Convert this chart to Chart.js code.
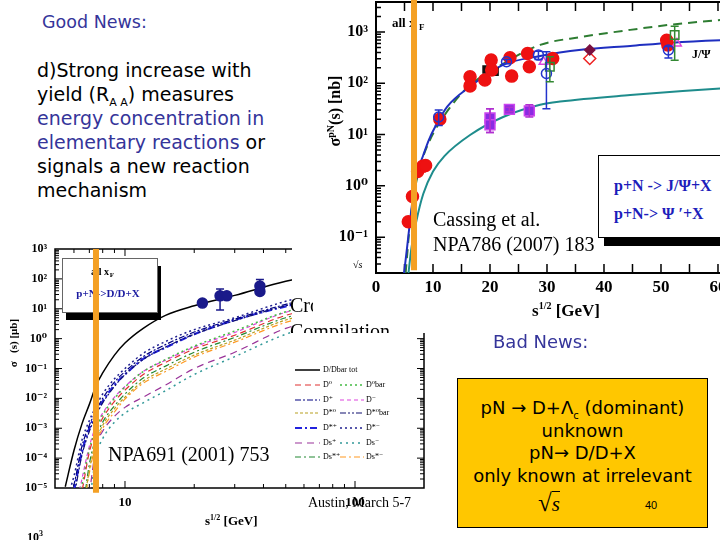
<!DOCTYPE html>
<html>
<head>
<meta charset="utf-8">
<script src="https://cdn.jsdelivr.net/npm/chart.js@4.4.1/dist/chart.umd.min.js"></script>
<style>
html, body { margin: 0; padding: 0; background: #fff; }
#slide { position: relative; width: 720px; height: 540px; overflow: hidden; background: #fff; }
canvas { position: absolute; }
#cLow { left: 0; top: 238px; z-index: 1; }
#cUp { left: 292px; top: 0; z-index: 2; }
sub, sup { line-height: 0; }
.t { position: absolute; white-space: nowrap; line-height: 1; z-index: 3; }
.comic { font-family: "DejaVu Sans", sans-serif; }
.serif { font-family: "Liberation Serif", "DejaVu Serif", serif; }
.bold { font-weight: bold; }
.navy { color: #35359a; }
#yellow { position: absolute; left: 457px; top: 378px; width: 251px; height: 150px; box-sizing: border-box;
  border: 1px solid #000; background: #ffc700; z-index: 3; text-align: center; }
#legUp { position: absolute; left: 598px; top: 155px; width: 150px; height: 83px; box-sizing: border-box;
  border: 1.5px solid #000; background: #fff; z-index: 3; }
#legUpShadow { position: absolute; left: 604px; top: 238px; width: 140px; height: 8px; background: #000; z-index: 3; }
</style>
</head>
<body>
<div id="slide">
  <canvas id="cLow" width="432" height="302"></canvas>
  <canvas id="cUp" width="468" height="333"></canvas>

  <div class="t comic navy" style="left:42px; top:14px; font-size:17.5px;">Good News:</div>
  <div class="t comic" style="left:37px; top:58px; font-size:19px; line-height:24px;">
    d)Strong increase with<br>
    yield (R<sub style="font-size:11px;">A A</sub>) measures<br>
    <span class="navy">energy concentration in</span><br>
    <span class="navy">elementary reactions</span> or<br>
    signals a new reaction<br>
    mechanism
  </div>
  <div class="t comic navy" style="left:493px; top:333px; font-size:18px;">Bad News:</div>

  <!-- upper plot texts -->
  <div class="t serif bold" style="left:277px; top:101px; width:120px; height:20px; text-align:center; font-size:16px; transform:rotate(-90deg);">σ<sup style="font-size:10px;">pN</sup>(s) [nb]</div>
  <div class="t serif bold" style="left:532px; top:302px; font-size:17px;">s<sup style="font-size:10px;">1/2</sup> [GeV]</div>
  <div class="t serif bold" style="left:692px; top:48px; font-size:12px;">J/Ψ</div>
  <div class="t serif" style="left:433px; top:209px; font-size:20px;">Cassing et al.</div>
  <div class="t serif" style="left:433px; top:234px; font-size:20px;">NPA786 (2007) 183</div>
  <div class="t serif" style="left:353px; top:260px; font-size:10px; font-style:italic;">√s</div>
  <div id="legUp">
    <div class="t serif bold" style="left:15px; top:22px; font-size:16px; color:#1d1dbb;">p+N -&gt; J/Ψ+X</div>
    <div class="t serif bold" style="left:15px; top:50px; font-size:16px; color:#1d1dbb;">p+N-&gt; Ψ ′+X</div>
  </div>
  <div id="legUpShadow"></div>

  <!-- lower plot texts -->
  <div class="t serif bold" style="left:-45px; top:336px; width:120px; height:14px; text-align:center; font-size:11px; transform:rotate(-90deg);">σ &nbsp;&nbsp;(s) [μb]</div>
  <div class="t serif bold" style="left:205px; top:514px; font-size:13px;">s<sup style="font-size:8px;">1/2</sup> [GeV]</div>
  <div class="t serif" style="left:108px; top:444px; font-size:20px;">NPA691 (2001) 753</div>
  <div class="t serif" style="left:308px; top:496px; font-size:14px;">Austin, March 5-7</div>
  <div class="t serif bold" style="left:27px; top:531px; font-size:12px;">10<sup style="font-size:8px;">3</sup></div>
  <div class="t serif" style="left:290px; top:295px; width:23px; height:20px; overflow:hidden; font-size:20px;">Cross</div>
  <div class="t serif" style="left:290px; top:318px; height:15px; overflow:hidden;"><div style="margin-top:3px; font-size:20px; line-height:1;">Compilation</div></div>

  <div id="yellow">
    <div class="comic" style="padding-top:18px; font-size:18px; line-height:22.5px;">
      pN → D+Λ<sub style="font-size:10px;">c</sub> (dominant)<br>
      unknown<br>
      pN→ D/D+X<br>
      only known at irrelevant
    </div>
    <div class="t serif" style="left:80px; top:111px; font-size:25px;">√<span style="border-top:1px solid #000; font-style:italic; font-size:21px;">s</span></div>
    <div class="t" style="left:187px; top:121px; font-size:11px; font-family:'Liberation Sans', sans-serif;">40</div>
  </div>
</div>

<script>
// ---- верхний график: J/psi и psi' в pN
const jpsiCurveX = [4.9, 5.5, 6.0, 6.5, 7.4, 8.3, 9.3, 10.5, 12.5, 16.5, 22.3, 28.8, 36, 44.6, 52, 60.4, 67];
const jpsiCurveY = [0.019, 0.07, 0.22, 0.6, 2.0, 4.0, 8, 15, 35, 86, 228, 340, 450, 535, 620, 690, 730];
const jpsiDashX = [5.2, 6.0, 7.0, 8.0, 9.5, 11.8, 15.9, 22.3, 28.8, 36, 44.6, 52, 60.4, 67];
const jpsiDashY = [0.02, 0.2, 1.1, 3.0, 8, 22, 80, 240, 560, 800, 1100, 1400, 1710, 1950];
const psiPrimeX = [5.7, 6.2, 7.1, 8.3, 10, 12, 16.5, 22.3, 28.8, 32.3, 44.6, 60.4, 67];
const psiPrimeY = [0.02, 0.06, 0.21, 0.7, 1.9, 3.8, 9.8, 22, 38, 44, 59, 79, 86];

const redX = [5.67, 6.4, 7.3, 8.2, 8.7, 11.2, 16.5, 16.5, 19.1, 20.2, 20.3, 23.5, 23.8, 26.6, 26.9, 31.0, 51.0, 51.2];
const redY = [0.2, 0.62, 1.9, 2.4, 2.5, 20, 134, 89, 116, 283, 182, 315, 138, 380, 210, 305, 690, 560];
const blackSqX = [19.4, 20.8];
const blackSqY = [185, 168];
const blueOpenX = [11.0, 22.9, 28.5, 29.9, 51.3];
const blueOpenY = [22, 263, 355, 155, 445];
const blueOpenLo = [15, 240, 290, 32, 310];
const blueOpenHi = [30, 290, 420, 410, 520];
const greenSqX = [30.5, 52.4];
const greenSqY = [210, 870];
const greenSqLo = [107, 282];
const greenSqHi = [330, 1300];
const magTriX = [29.4, 52.8];
const magTriY = [263, 600];
const maroonDiaX = [37.5];
const maroonDiaY = [445];
const redDiaX = [37.5];
const redDiaY = [305];
const psiPrimeDataX = [20.0, 20.0, 23.4, 26.9];
const psiPrimeDataY = [21, 15.5, 31, 29];
const psiPrimeDataLo = [11, 11, 28, 22];
const psiPrimeDataHi = [32, 32, 34, 38];
const upMarkX = [6.67, 6.67];
const upMarkY = [4200, 0.0227];

// ---- нижний график: p+N -> D/Dbar + X
const lowX = [5.5, 6, 6.5, 7, 7.5, 8, 9, 10, 12, 15, 20, 30, 50, 80];
const dTot = [1.1e-5, 1.8e-4, 1.4e-3, 6.3e-3, 0.028, 0.071, 0.28, 0.71, 2.2, 6.0, 12.6, 28, 83, 160];
const dStarMinus = [3e-6, 2.5e-5, 4e-4, 1.8e-3, 5.6e-3, 0.014, 0.045, 0.1, 0.32, 0.8, 2.0, 5.0, 17.8, 40];
const dPlus = [2e-6, 1.3e-5, 2.5e-4, 1.26e-3, 4e-3, 0.01, 0.035, 0.079, 0.25, 0.63, 1.66, 4.5, 14, 32];
const dStar0bar = [null, 5e-6, 1.26e-4, 7.9e-4, 2.8e-3, 7.1e-3, 0.025, 0.063, 0.2, 0.52, 1.4, 4.0, 12.6, 28];
const dStarPlus = [null, 8e-6, 1.6e-4, 1e-3, 3.2e-3, 7.9e-3, 0.028, 0.063, 0.21, 0.5, 1.4, 4.2, 12, 26];
const dMinus = [null, 1e-6, 2e-5, 2.5e-4, 1.26e-3, 3.2e-3, 0.011, 0.025, 0.079, 0.19, 0.52, 1.6, 7.6, 16];
const d0bar = [null, 1e-6, 1.26e-5, 2e-4, 1e-3, 2.8e-3, 0.01, 0.024, 0.079, 0.2, 0.56, 1.8, 7.9, 17.8];
const d0 = [null, 1e-6, 8e-6, 1.6e-4, 7.9e-4, 2.2e-3, 7.9e-3, 0.019, 0.063, 0.16, 0.45, 1.3, 6, 13];
const dsStarPlus = [null, null, 1e-6, 6.3e-5, 5e-4, 1.6e-3, 5.6e-3, 0.014, 0.048, 0.12, 0.35, 1.1, 5, 11.2];
const dStar0 = [null, null, 1e-6, 4e-5, 4e-4, 1.26e-3, 4.5e-3, 0.011, 0.038, 0.095, 0.28, 0.89, 4.2, 9.5];
const dsStarMinus = [null, null, 1e-6, 3.2e-5, 3.2e-4, 1e-3, 3.5e-3, 9.5e-3, 0.032, 0.079, 0.24, 0.76, 3.5, 7.9];
const dsPlus = [null, null, null, 6.3e-6, 2.5e-4, 7.9e-4, 2.5e-3, 5e-3, 0.011, 0.028, 0.1, 0.35, 2.2, 5.6];
const dsMinus = [null, null, null, 3.2e-6, 1.26e-4, 4.5e-4, 1.6e-3, 3.2e-3, 7.1e-3, 0.018, 0.063, 0.25, 1.4, 4];
const dMeasX = [21.7, 25.9, 27.7, 38.6, 38.6];
const dMeasY = [15.5, 27, 27, 58, 38];
const dMeasLo = [null, 9, null, 30, null];
const dMeasHi = [null, 46, null, 95, null];
const lowMarkX = [7.48, 7.48];
const lowMarkY = [1000, 6.9e-6];

const ORANGE = '#f4a024';
const SERIF = '"Liberation Serif", "DejaVu Serif", serif';
const supDigits = { '-': '⁻', '0': '⁰', '1': '¹', '2': '²', '3': '³', '4': '⁴', '5': '⁵' };

const pts = (xs, ys) => xs.map((x, i) => ({ x, y: ys[i] }));
const isPow10 = (v) => Math.abs(Math.log10(v) - Math.round(Math.log10(v))) < 1e-6;
const powLabel = (v) => (isPow10(v) ? '10' + String(Math.round(Math.log10(v))).split('').map((c) => supDigits[c]).join('') : '');
// только целые 1..9 x 10^n (без 15, 150)
const isLogStep = (v) => {
    const m = v / Math.pow(10, Math.floor(Math.log10(v) + 1e-9));
    return Math.abs(m - Math.round(m)) < 1e-6;
};
// ось не добавляет своих отступов, область графика задаётся только padding
const fixAxis = (size, horizontal) => (s) => {
    if (horizontal) s.height = size; else s.width = size;
    s.paddingTop = 0; s.paddingBottom = 0; s.paddingLeft = 0; s.paddingRight = 0;
};

const curve = (label, xs, ys, color, width, dash) => ({
    label, data: pts(xs, ys), showLine: true, borderColor: color, backgroundColor: color,
    borderWidth: width, borderDash: dash, pointRadius: 0, cubicInterpolationMode: 'monotone', spanGaps: false,
});
const marks = (label, xs, ys, style, r, fill, stroke, extra = {}) => ({
    label, data: pts(xs, ys), pointStyle: style, pointRadius: r, backgroundColor: fill,
    borderColor: stroke, pointBorderWidth: 1.5, ...extra,
});

// рамка с внутренними рисками
const framePlugin = {
    id: 'frame',
    beforeDraw(chart, args, opts) {
        if (!opts.white) return;
        const { ctx, width, height } = chart;
        ctx.save();
        ctx.fillStyle = '#fff';
        ctx.fillRect(0, 0, width, height);
        ctx.restore();
    },
    beforeDatasetsDraw(chart, args, opts) {
        const { ctx, chartArea: a, scales } = chart;
        const xs = scales.x;
        const ys = scales.y;
        ctx.save();
        ctx.strokeStyle = '#000';
        ctx.lineWidth = opts.width;
        ctx.strokeRect(a.left, a.top, a.right - a.left, a.bottom - a.top);
        ctx.lineWidth = opts.tickWidth;
        ctx.beginPath();
        xs.ticks.forEach((t) => {
            if (t.value <= xs.min || t.value >= xs.max) return;
            let len = opts.major;
            if (opts.xLog) {
                if (!isLogStep(t.value)) return;
                len = isPow10(t.value) ? opts.major : opts.minor;
            }
            const px = xs.getPixelForValue(t.value);
            ctx.moveTo(px, a.bottom); ctx.lineTo(px, a.bottom - len);
            ctx.moveTo(px, a.top); ctx.lineTo(px, a.top + len);
        });
        ys.ticks.forEach((t) => {
            if (t.value <= ys.min || t.value >= ys.max || !isLogStep(t.value)) return;
            const len = isPow10(t.value) ? opts.major : opts.minor;
            const py = ys.getPixelForValue(t.value);
            ctx.moveTo(a.left, py); ctx.lineTo(a.left + len, py);
            if (opts.right) { ctx.moveTo(a.right, py); ctx.lineTo(a.right - len, py); }
        });
        ctx.stroke();
        ctx.restore();
    },
};

const errorBarPlugin = {
    id: 'errorBars',
    afterDatasetsDraw(chart) {
        const { ctx, scales: { x, y } } = chart;
        chart.data.datasets.forEach((ds) => {
            if (!ds.errLo) return;
            ctx.save();
            ctx.strokeStyle = ds.errColor || ds.borderColor;
            ctx.lineWidth = 1.5;
            ds.data.forEach((p, i) => {
                const lo = ds.errLo[i];
                const hi = ds.errHi[i];
                if (lo == null) return;
                const px = x.getPixelForValue(p.x);
                const yl = y.getPixelForValue(lo);
                const yh = y.getPixelForValue(hi);
                ctx.beginPath();
                ctx.moveTo(px, yl); ctx.lineTo(px, yh);
                ctx.moveTo(px - 4, yl); ctx.lineTo(px + 4, yl);
                ctx.moveTo(px - 4, yh); ctx.lineTo(px + 4, yh);
                ctx.stroke();
            });
            ctx.restore();
        });
    },
};

// подписи внутри верхнего графика (под оранжевой линией)
const upperNotes = {
    id: 'upperNotes',
    beforeDatasetsDraw(chart) {
        const { ctx } = chart;
        ctx.save();
        ctx.fillStyle = '#000';
        ctx.font = `bold 13px ${SERIF}`;
        ctx.textBaseline = 'alphabetic';
        ctx.fillText('all x', 100, 27);
        ctx.font = `bold 9px ${SERIF}`;
        ctx.fillText('F', 127, 30);
        ctx.restore();
    },
};

// рамка "all xF" и легенда кривых нижнего графика
const lowerNotes = {
    id: 'lowerNotes',
    beforeDatasetsDraw(chart) {
        const { ctx } = chart;
        ctx.save();
        ctx.fillStyle = '#000';
        ctx.fillRect(66, 28, 95, 54);
        ctx.fillStyle = '#fff';
        ctx.fillRect(62, 20, 95, 54);
        ctx.strokeStyle = '#666';
        ctx.lineWidth = 1;
        ctx.strokeRect(62.5, 20.5, 95, 54);
        ctx.textAlign = 'center';
        ctx.textBaseline = 'alphabetic';
        ctx.fillStyle = '#000';
        ctx.font = `bold 10px ${SERIF}`;
        ctx.fillText('all x', 100, 37);
        ctx.font = `bold 7px ${SERIF}`;
        ctx.fillText('F', 112, 39);
        ctx.fillStyle = '#1a1aa0';
        ctx.font = `bold 11px ${SERIF}`;
        ctx.fillText('p+N->D/D+X', 108, 59);
        ctx.restore();
    },
    afterDraw(chart) {
        const { ctx } = chart;
        const rows = [132, 147, 162, 175, 190, 205, 219];
        const cols = [[295, 320, 323], [340, 364, 366]];
        const layout = chart.data.datasets.filter((ds) => ds.legendPos);
        ctx.save();
        ctx.font = `8px ${SERIF}`;
        ctx.textBaseline = 'middle';
        layout.forEach((ds) => {
            const [r, c] = ds.legendPos;
            const [x0, x1, tx] = cols[c];
            const y = rows[r];
            ctx.strokeStyle = ds.borderColor;
            ctx.lineWidth = ds.borderWidth;
            ctx.setLineDash(ds.borderDash || []);
            ctx.beginPath();
            ctx.moveTo(x0, y); ctx.lineTo(x1, y);
            ctx.stroke();
            ctx.setLineDash([]);
            ctx.fillStyle = '#000';
            ctx.fillText(ds.label, tx, y);
        });
        ctx.restore();
    },
};

const initUpper = () => {
    const datasets = [
        { label: 'mark', data: pts(upMarkX, upMarkY), showLine: true, borderColor: ORANGE, borderWidth: 6,
          pointRadius: 0, clip: false, order: -1 },
        marks('red', redX, redY, 'circle', 6, '#ee1111', '#ee1111', { order: 1 }),
        marks('black', blackSqX, blackSqY, 'rect', 5, '#111', '#111', { order: 1 }),
        marks('blue', blueOpenX, blueOpenY, 'circle', 5, 'rgba(255,255,255,0)', '#2233cc',
            { order: 0, errLo: blueOpenLo, errHi: blueOpenHi }),
        marks('green', greenSqX, greenSqY, 'rect', 6, 'rgba(255,255,255,0)', '#338833',
            { order: 0, errLo: greenSqLo, errHi: greenSqHi }),
        marks('magenta', magTriX, magTriY, 'triangle', 5, 'rgba(255,255,255,0)', '#dd44dd', { order: 0 }),
        marks('maroon', maroonDiaX, maroonDiaY, 'rectRot', 5, '#7a1040', '#7a1040', { order: 0 }),
        marks('reddia', redDiaX, redDiaY, 'rectRot', 6, 'rgba(255,255,255,0)', '#ee2222', { order: 0 }),
        marks('psi2', psiPrimeDataX, psiPrimeDataY, 'rect', 7, '#8a2be2', '#cc44ee',
            { order: 0, errLo: psiPrimeDataLo, errHi: psiPrimeDataHi, errColor: '#b030d0' }),
        { ...curve('J/psi', jpsiCurveX, jpsiCurveY, '#1f2fc0', 2), order: 2 },
        { ...curve('J/psi dash', jpsiDashX, jpsiDashY, '#2e7d32', 2, [9, 6]), order: 3 },
        { ...curve("psi'", psiPrimeX, psiPrimeY, '#1e8c8c', 2), order: 2 },
    ];
    return new Chart(document.getElementById('cUp'), {
        type: 'scatter',
        data: { datasets },
        options: {
            responsive: false,
            animation: false,
            layout: { autoPadding: false, padding: { top: 2, left: 0, right: 0, bottom: 0 } },
            scales: {
                x: {
                    type: 'linear', min: 0, max: 67.37,
                    afterFit: fixAxis(60, true),
                    grid: { display: false, drawTicks: false },
                    border: { display: false },
                    ticks: {
                        stepSize: 5, includeBounds: false, autoSkip: false, maxRotation: 0, padding: 4,
                        color: '#000', font: { family: SERIF, size: 17, weight: 'bold' },
                        callback: (v) => (v % 10 === 0 ? String(v) : ''),
                    },
                },
                y: {
                    type: 'logarithmic', min: 0.02, max: 3846,
                    afterFit: fixAxis(84, false),
                    grid: { display: false, drawTicks: false },
                    border: { display: false },
                    ticks: {
                        autoSkip: false, padding: 8, color: '#000',
                        font: { family: SERIF, size: 16, weight: 'bold' },
                        callback: (v) => powLabel(v),
                    },
                },
            },
            plugins: {
                legend: { display: false },
                tooltip: { enabled: false },
                frame: { white: true, width: 2, tickWidth: 1.5, major: 9, minor: 5 },
            },
        },
        plugins: [framePlugin, upperNotes, errorBarPlugin],
    });
};

const initLower = () => {
    const c = (label, ys, color, width, dash, pos) => ({ ...curve(label, lowX, ys, color, width, dash), legendPos: pos });
    const datasets = [
        { label: 'mark', data: pts(lowMarkX, lowMarkY), showLine: true, borderColor: ORANGE, borderWidth: 6,
          pointRadius: 0, clip: false, order: -1 },
        marks('data', dMeasX, dMeasY, 'circle', 5, '#1a1a8a', '#1a1a8a',
            { order: 0, errLo: dMeasLo, errHi: dMeasHi }),
        c('D/Dbar tot', dTot, '#000', 1.5, [], [0, 0]),
        c('D⁰', d0, '#e03030', 1.2, [6, 4], [1, 0]),
        c('D⁰bar', d0bar, '#44bb44', 1.5, [2, 3], [1, 1]),
        c('D⁺', dPlus, '#000080', 1.2, [6, 2, 2, 2], [2, 0]),
        c('D⁻', dMinus, '#dd44dd', 1.2, [4, 3], [2, 1]),
        c('D*⁰', dStar0, '#b8a020', 1.2, [3, 2], [3, 0]),
        c('D*⁰bar', dStar0bar, '#101070', 1.2, [6, 2, 2, 2, 2, 2], [3, 1]),
        c('D*⁺', dStarPlus, '#2222dd', 2.2, [7, 3, 2, 3], [4, 0]),
        c('D*⁻', dStarMinus, '#202090', 1.5, [2, 3], [4, 1]),
        c('Ds⁺', dsPlus, '#993399', 1.2, [7, 5], [5, 0]),
        c('Ds⁻', dsMinus, '#339999', 1.5, [2, 4], [5, 1]),
        c('Ds*⁺', dsStarPlus, '#228833', 1.2, [6, 3, 2, 3], [6, 0]),
        c('Ds*⁻', dsStarMinus, '#ff9922', 1.2, [6, 3, 2, 3], [6, 1]),
    ];
    return new Chart(document.getElementById('cLow'), {
        type: 'scatter',
        data: { datasets },
        options: {
            responsive: false,
            animation: false,
            layout: { autoPadding: false, padding: { top: 11, left: 0, right: 8, bottom: 0 } },
            scales: {
                x: {
                    type: 'logarithmic', min: 4.963, max: 199.5,
                    afterFit: fixAxis(52, true),
                    grid: { display: false, drawTicks: false },
                    border: { display: false },
                    ticks: {
                        autoSkip: false, maxRotation: 0, padding: 7, color: '#000',
                        font: { family: SERIF, size: 13, weight: 'bold' },
                        callback: (v) => (isPow10(v) ? String(Math.round(v)) : ''),
                    },
                },
                y: {
                    type: 'logarithmic', min: 1e-5, max: 1000,
                    afterFit: fixAxis(55, false),
                    grid: { display: false, drawTicks: false },
                    border: { display: false },
                    ticks: {
                        autoSkip: false, padding: 8, color: '#000',
                        font: { family: SERIF, size: 12, weight: 'bold' },
                        callback: (v) => powLabel(v),
                    },
                },
            },
            plugins: {
                legend: { display: false },
                tooltip: { enabled: false },
                frame: { white: false, width: 1.5, tickWidth: 1, major: 7, minor: 4, xLog: true, right: true },
            },
        },
        plugins: [framePlugin, lowerNotes, errorBarPlugin],
    });
};

document.addEventListener('DOMContentLoaded', () => {
    if (!window.Chart) return;
    initLower();
    initUpper();
});
</script>
</body>
</html>
